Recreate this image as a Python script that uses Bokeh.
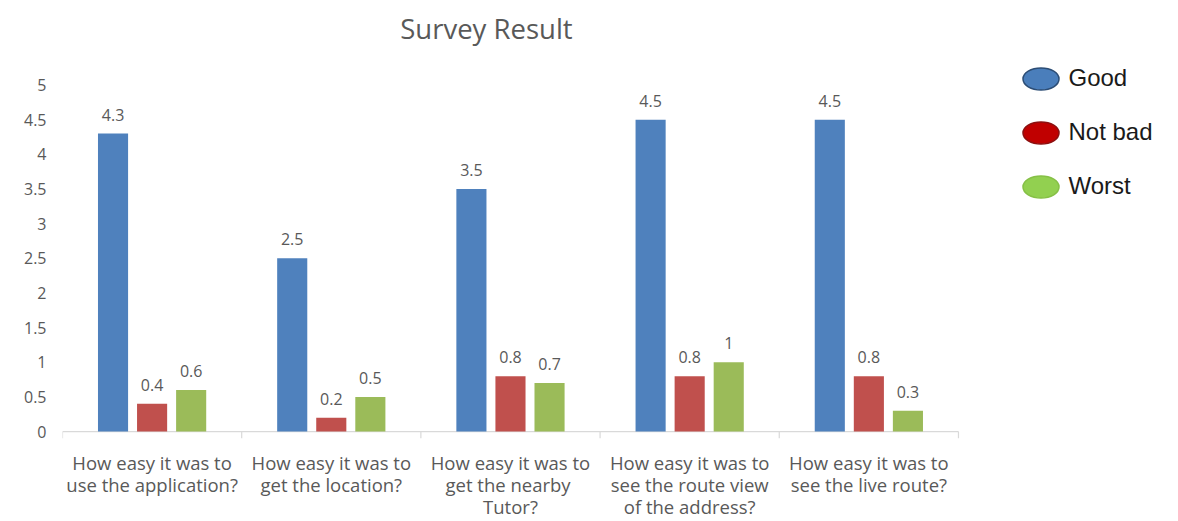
from bokeh.plotting import figure
from bokeh.models import (ColumnDataSource, Range1d, FixedTicker,
                          PrintfTickFormatter, Legend, LegendItem, Label)
from bokeh.core.properties import value
from bokeh.embed import file_html
from bokeh.resources import INLINE

title = "Survey Result"
categories = [
    "How easy it was to\nuse the application?",
    "How easy it was to\nget the location?",
    "How easy it was to\nget the  nearby\nTutor?",
    "How easy it was to\nsee the route view\nof the address?",
    "How easy it was to\nsee the live route?",
]
series = ["Good", "Not bad", "Worst"]
good = [4.3, 2.5, 3.5, 4.5, 4.5]
not_bad = [0.4, 0.2, 0.8, 0.8, 0.8]
worst = [0.6, 0.5, 0.7, 1.0, 0.3]
y_ticks = [0, 0.5, 1, 1.5, 2, 2.5, 3, 3.5, 4, 4.5, 5]

bar_colors = ["#4F81BD", "#C0504D", "#9BBB59"]
legend_fill = ["#4a7ebb", "#c00000", "#92d050"]
legend_line = ["#2c4d75", "#8c1010", "#86c046"]
offsets = [-0.218, 0.0, 0.218]
text_gray = "#595959"
axis_gray = "#d9d9d9"

n = len(categories)
centers = [i + 0.5 for i in range(n)]          # category slots on the x scale
bounds = [float(i) for i in range(n + 1)]      # category boundaries

values = [good, not_bad, worst]
data = {"xc": centers}
for name, vals in zip(series, values):
    data[name] = vals
    data[name + "_lbl"] = [f"{v:g}" for v in vals]

# frame extended right/up so the legend and the title sit inside it
p = figure(x_range=Range1d(0, 6.228), y_range=Range1d(-0.1, 6.22),
           width=1178, height=521, output_backend="svg", toolbar_location=None,
           min_border_left=62, min_border_right=0, min_border_top=0,
           min_border_bottom=81)
p.outline_line_color = None
p.xgrid.visible = False
p.ygrid.visible = False
p.background_fill_color = "white"
p.border_fill_color = "white"

# x axis (category labels)
p.xaxis.ticker = FixedTicker(ticks=centers)
p.xaxis.major_label_overrides = {c: lab for c, lab in zip(centers, categories)}
p.xaxis.axis_line_color = None
p.xaxis.major_tick_line_color = None
p.xaxis.minor_tick_line_color = None
p.xaxis.major_tick_out = 0
p.xaxis.major_tick_in = 0
p.xaxis.minor_tick_out = 0
p.xaxis.major_label_standoff = 11
p.xaxis.major_label_text_font = "Open Sans"
p.xaxis.major_label_text_font_size = "18.5px"
p.xaxis.major_label_text_color = text_gray
p.xaxis.major_label_text_line_height = 0.88

# y axis
p.yaxis.axis_line_color = None
p.yaxis.major_tick_line_color = None
p.yaxis.minor_tick_line_color = None
p.yaxis.major_tick_out = 0
p.yaxis.major_tick_in = 0
p.yaxis.minor_tick_out = 0
p.yaxis.ticker = FixedTicker(ticks=y_ticks)
p.yaxis.formatter = PrintfTickFormatter(format="%g")
p.yaxis.major_label_standoff = 16
p.yaxis.major_label_text_font = "Open Sans"
p.yaxis.major_label_text_font_size = "16px"
p.yaxis.major_label_text_color = text_gray

# baseline and category boundary ticks
p.segment(x0=[bounds[0]], y0=[0], x1=[bounds[-1]], y1=[0],
          line_color=axis_gray, line_width=1.2)
p.segment(x0=bounds, y0=[0] * len(bounds), x1=bounds, y1=[-0.1] * len(bounds),
          line_color=axis_gray, line_width=1.2)

legend_items = []
for name, col, off, lf, ll in zip(series, bar_colors, offsets, legend_fill, legend_line):
    xs = [c + off for c in centers]
    src = ColumnDataSource({"x": xs, "top": data[name], "lbl": data[name + "_lbl"]})
    p.vbar(x="x", top="top", width=0.168, source=src,
           fill_color=col, line_color=None)
    p.text(x="x", y="top", text="lbl", source=src,
           text_align="center", text_baseline="bottom", y_offset=-13,
           text_font=value("Open Sans"), text_font_size="16px", text_color=text_gray)
    e = p.ellipse(x=[0.5], y=[-10], width=36, height=22, width_units="screen",
                  height_units="screen", fill_color=lf, line_color=ll, line_width=1.5)
    legend_items.append(LegendItem(label=name, renderers=[e]))

legend = Legend(items=legend_items, location=(955.5, 229.5), orientation="vertical",
                glyph_width=45, glyph_height=45, spacing=9, padding=0, margin=0,
                label_standoff=6, border_line_color=None, background_fill_alpha=0,
                label_text_font="Liberation Sans", label_text_font_size="24px",
                label_text_color="#1a1a1a")
p.add_layout(legend)

p.add_layout(Label(x=2.366, y=5.82, text=title, text_align="center",
                   text_baseline="middle", text_font="Open Sans",
                   text_font_size="27.5px", text_color=text_gray))

open("out.html", "w").write(file_html(p, INLINE))
